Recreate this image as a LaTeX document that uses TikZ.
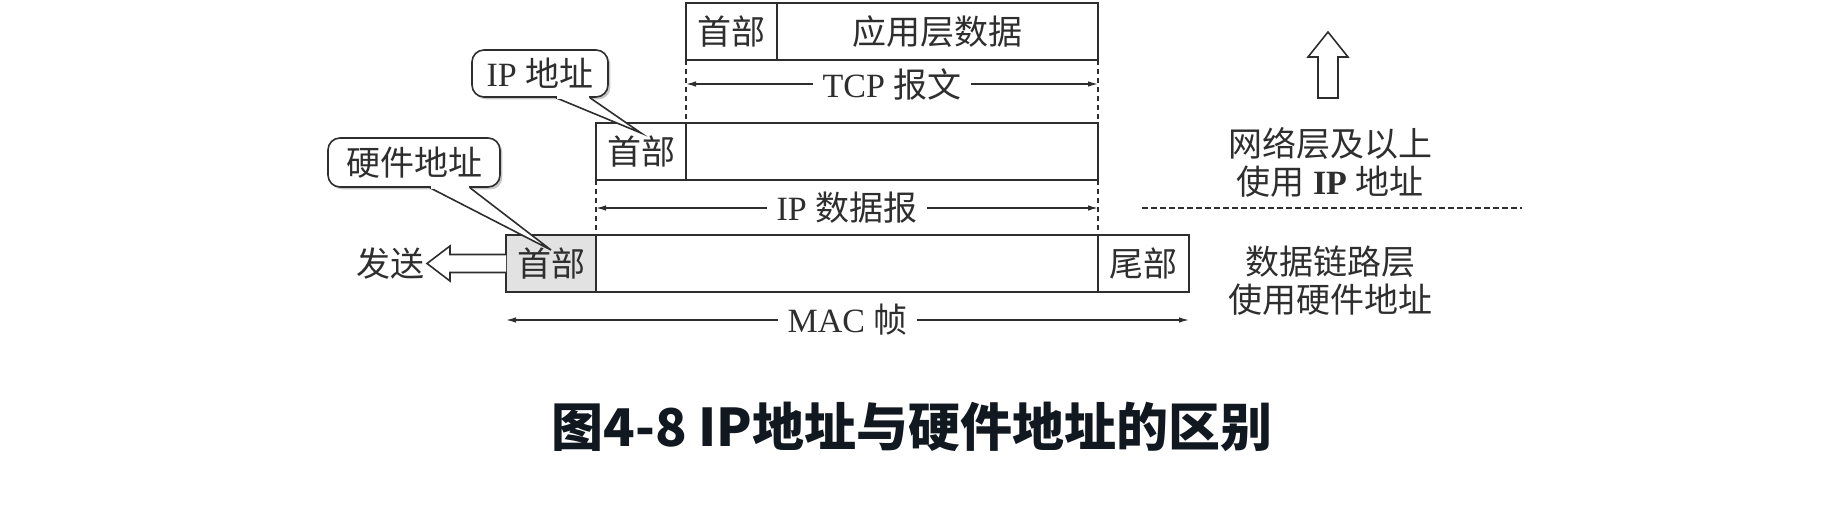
\documentclass[tikz,border=0pt]{standalone}
\usepackage{fontspec}
\setmainfont{Liberation Serif}
\newfontfamily\zhfont{Noto Sans CJK SC}
\newcommand{\zh}[1]{{\zhfont #1}}
\usetikzlibrary{arrows.meta}
\usetikzlibrary{shadows}

\definecolor{inkgray}{HTML}{2E2E2E}
\definecolor{hdrgray}{HTML}{E2E2E2}
\definecolor{captionink}{HTML}{111820}

\tikzset{
  field/.style={draw=inkgray, line width=0.9pt, inner sep=0pt, outer sep=0pt,
    minimum height=28.5pt, anchor=north west, text=inkgray},
  guide/.style={draw=inkgray, line width=0.6pt, dash pattern=on 2.5pt off 2pt},
  span/.style={draw=inkgray, line width=0.7pt, <->},
  spanlabel/.style={fill=white, inner xsep=5pt, inner ysep=1pt, text=inkgray},
  bubble/.style={draw=inkgray, line width=0.8pt, fill=white, rounded corners=6pt,
    inner sep=0pt, text=inkgray,
    drop shadow={shadow xshift=1.2pt, shadow yshift=-1.2pt, opacity=0.45}},
  hollow/.style={draw=inkgray, line width=0.8pt, fill=white, line join=miter},
  note/.style={align=center, text=inkgray}
}

\begin{document}
\begin{tikzpicture}[x=0.5pt, y=-0.5pt, >={Latex[length=5pt,width=2.8pt]},
    every node/.style={font=\fontsize{17}{19}\selectfont}]
  \useasboundingbox (0,0) rectangle (1836,530);
  % TCP segment
  \node[field, minimum width=45.5pt] (tcphdr) at (686,3) {\zh{首部}};
  \node[field, minimum width=160.5pt] (tcpdata) at (tcphdr.north east) {\zh{应用层数据}};
  % IP datagram
  \node[field, minimum width=45pt] (iphdr) at (596,123) {\zh{首部}};
  \node[field, minimum width=206pt] (ipdata) at (iphdr.north east) {};
  % MAC frame
  \node[field, fill=hdrgray, minimum width=45pt] (machdr) at (506,235) {\zh{首部}};
  \node[field, minimum width=251pt] (macdata) at (machdr.north east) {};
  \node[field, minimum width=45.5pt] (mactrl) at (macdata.north east) {\zh{尾部}};
  %
  \draw[guide] (tcphdr.south west) -- (ipdata.north west);
  \draw[guide] (tcpdata.south east) -- (ipdata.north east);
  \draw[guide] (iphdr.south west) -- (macdata.north west);
  \draw[guide] (ipdata.south east) -- (mactrl.north west);
  \draw[span] (tcphdr.west |- 0,84) -- (tcpdata.east |- 0,84)
    node[midway, spanlabel] {TCP \zh{报文}};
  \draw[span] (iphdr.west |- 0,208) -- (ipdata.east |- 0,208)
    node[midway, spanlabel] {IP \zh{数据报}};
  \draw[span] (machdr.west |- 0,320) -- (mactrl.east |- 0,320)
    node[midway, spanlabel] {MAC \zh{帧}};
  % callouts
  \node[bubble, minimum width=68pt, minimum height=23.5pt] (ipaddr) at (540,73.5) {IP \zh{地址}};
  \coordinate (iptip) at ([yshift=-5pt]iphdr.north);
  \filldraw[hollow] ([xshift=8pt]ipaddr.south) -- (iptip) -- ([xshift=25pt]ipaddr.south);
  \draw[white, line width=1.4pt] ([xshift=8.7pt]ipaddr.south) -- ([xshift=24.3pt]ipaddr.south);
  \node[bubble, minimum width=86pt, minimum height=24.5pt] (hwaddr) at (414,162.5) {\zh{硬件地址}};
  \coordinate (hwtip) at ([yshift=-7.5pt]machdr.north);
  \filldraw[hollow] ([xshift=8pt]hwaddr.south) -- (hwtip) -- ([xshift=28pt]hwaddr.south);
  \draw[white, line width=1.4pt] ([xshift=8.7pt]hwaddr.south) -- ([xshift=27.3pt]hwaddr.south);
  % send
  \node[text=inkgray] (send) at (390,264) {\zh{发送}};
  \draw[hollow] ([yshift=4.5pt]machdr.west) -- ++(-56,0) -- ++(0,-8.5) -- ++(-23,17.5)
    -- ++(23,17.5) -- ++(0,-8.5) -- ([yshift=-4.5pt]machdr.west);
  % layers
  \draw[hollow] (1318,98) -- (1318,57) -- (1308,57) -- (1328,32) -- (1348,57)
    -- (1338,57) -- (1338,98) -- cycle;
  \node[note] (netlayer) at (1330,162) {\zh{网络层及以上}\\\zh{使用} \textbf{IP} \zh{地址}};
  \draw[inkgray, line width=0.7pt, dash pattern=on 3pt off 1.5pt] (1142,208) -- (1522,208);
  \node[note] (linklayer) at (1330,281) {\zh{数据链路层}\\\zh{使用硬件地址}};
  %
  \node[font=\zhfont\bfseries\fontsize{26}{30}\selectfont, text=captionink] (caption)
    at (912,427) {图4-8 IP地址与硬件地址的区别};
\end{tikzpicture}
\end{document}
